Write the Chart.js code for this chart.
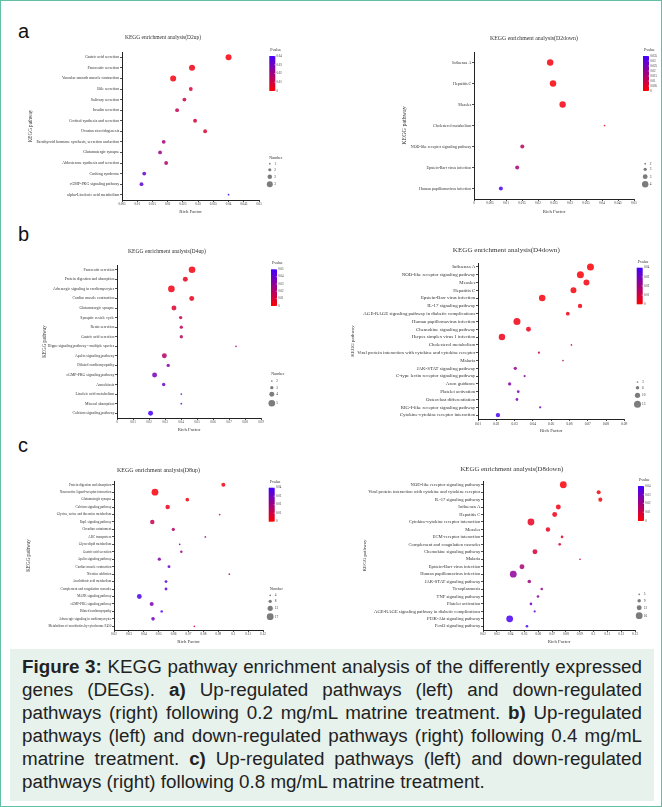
<!DOCTYPE html>
<html>
<head>
<meta charset="utf-8">
<script src="https://cdn.jsdelivr.net/npm/chart.js@4.4.0/dist/chart.umd.min.js"></script>
<style>
  body { margin: 0; background: #fff; }
  #fig { position: absolute; left: 0; top: 0; width: 660px; height: 805px; border: 1px solid #63bfa4; }
  canvas { position: absolute; }
  .letter { position: absolute; font: 20px "Liberation Sans", Arial, sans-serif; color: #111; }
  #cap { position: absolute; left: 9px; top: 648px; width: 644px; height: 152px; background: #e7f2ed; }
  #cap div { position: absolute; left: 12px; width: 620px; font: 18.8px "Liberation Sans", Arial, sans-serif; color: #222;
             text-align: justify; text-align-last: justify; white-space: nowrap; }
  #cap div.last { text-align-last: left; }
</style>
</head>
<body>
<div id="fig">
  <div class="letter" style="left:17px;top:19px">a</div>
  <div class="letter" style="left:17px;top:222px">b</div>
  <div class="letter" style="left:17px;top:433px">c</div>
  <canvas id="a1"></canvas><canvas id="a2"></canvas>
  <canvas id="b1"></canvas><canvas id="b2"></canvas>
  <canvas id="c1"></canvas><canvas id="c2"></canvas>
  <div id="cap">
    <div style="top:7px"><b>Figure 3:</b> KEGG pathway enrichment analysis of the differently expressed</div>
    <div style="top:30px">genes (DEGs). <b>a)</b> Up-regulated pathways (left) and down-regulated</div>
    <div style="top:53px">pathways (right) following 0.2 mg/mL matrine treatment. <b>b)</b> Up-regulated</div>
    <div style="top:76px">pathways (left) and down-regulated pathways (right) following 0.4 mg/mL</div>
    <div style="top:99px">matrine treatment. <b>c)</b> Up-regulated pathways (left) and down-regulated</div>
    <div class="last" style="top:122px">pathways (right) following 0.8 mg/mL matrine treatment.</div>
  </div>
</div>
<script>
// ---- D2 up ----
var d2upPaths = ['Gastric acid secretion', 'Pancreatic secretion', 'Vascular smooth muscle contraction', 'Bile secretion',
  'Salivary secretion', 'Insulin secretion', 'Cortisol synthesis and secretion', 'Ovarian steroidogenesis',
  'Parathyroid hormone synthesis, secretion and action', 'Glutamatergic synapse', 'Aldosterone synthesis and secretion',
  'Cushing syndrome', 'cGMP-PKG signaling pathway', 'alpha-Linolenic acid metabolism'];
var d2upRich = [0.040, 0.028, 0.0218, 0.0276, 0.0255, 0.0231, 0.029, 0.0323, 0.0187, 0.0175, 0.0195, 0.0123, 0.0114, 0.040];
var d2upCount = [3, 3, 3, 2, 2, 2, 2, 2, 2, 2, 2, 2, 2, 1];
var d2upP = [0.002, 0.003, 0.002, 0.008, 0.011, 0.013, 0.009, 0.007, 0.019, 0.021, 0.017, 0.032, 0.034, 0.04];
var d2upX = [0.005, 0.01, 0.015, 0.02, 0.025, 0.03, 0.035, 0.04, 0.045, 0.05];
var d2upPTicks = [0.04, 0.03, 0.02, 0.01, 0];
var d2upSize = [1, 1.67, 2.33, 3];
var d2upSizeLbl = ['1', '2', '2', '3'];

// ---- D2 down ----
var d2dnPaths = ['Influenza A', 'Hepatitis C', 'Measles', 'Cholesterol metabolism', 'NOD-like receptor signaling pathway',
  'Epstein-Barr virus infection', 'Human papillomavirus infection'];
var d2dnRich = [0.0238, 0.0247, 0.0277, 0.0408, 0.0151, 0.0135, 0.0084];
var d2dnCount = [4, 4, 4, 2, 3, 3, 3];
var d2dnP = [0.002, 0.001, 0.002, 0.004, 0.012, 0.016, 0.033];
var d2dnX = [0, 0.005, 0.01, 0.015, 0.02, 0.025, 0.03, 0.035, 0.04, 0.045, 0.05];
var d2dnPTicks = [0.035, 0.03, 0.025, 0.02, 0.015, 0.01, 0.005, 0];
var d2dnSize = [2, 2.67, 3.33, 4];
var d2dnSizeLbl = ['2', '3', '3', '4'];

// ---- D4 up ----
var d4upPaths = ['Pancreatic secretion', 'Protein digestion and absorption', 'Adrenergic signaling in cardiomyocytes',
  'Cardiac muscle contraction', 'Glutamatergic synapse', 'Synaptic vesicle cycle', 'Renin secretion', 'Gastric acid secretion',
  'Hippo signaling pathway - multiple species', 'Apelin signaling pathway', 'Dilated cardiomyopathy',
  'cGMP-PKG signaling pathway', 'Amoebiasis', 'Linoleic acid metabolism', 'Mineral absorption', 'Calcium signaling pathway'];
var d4upRich = [0.0469, 0.0427, 0.034, 0.0467, 0.0356, 0.0398, 0.0402, 0.0402, 0.0744, 0.0296, 0.032, 0.0235, 0.0292, 0.0402, 0.0402, 0.021];
var d4upCount = [5, 4, 5, 4, 4, 3, 3, 3, 2, 4, 3, 4, 3, 2, 2, 4];
var d4upP = [0.003, 0.006, 0.004, 0.005, 0.009, 0.016, 0.017, 0.018, 0.022, 0.02, 0.033, 0.036, 0.04, 0.044, 0.046, 0.048];
var d4upX = [0, 0.01, 0.02, 0.03, 0.04, 0.05, 0.06, 0.07, 0.08, 0.09];
var d4upPTicks = [0.05, 0.04, 0.03, 0.02, 0.01, 0];
var d4upSize = [2, 3, 4, 5];
var d4upSizeLbl = ['2', '3', '4', '5'];

// ---- D4 down ----
var d4dnPaths = ['Influenza A', 'NOD-like receptor signaling pathway', 'Measles', 'Hepatitis C', 'Epstein-Barr virus infection',
  'IL-17 signaling pathway', 'AGE-RAGE signaling pathway in diabetic complications', 'Human papillomavirus infection',
  'Chemokine signaling pathway', 'Herpes simplex virus 1 infection', 'Cholesterol metabolism',
  'Viral protein interaction with cytokine and cytokine receptor', 'Malaria', 'JAK-STAT signaling pathway',
  'C-type lectin receptor signaling pathway', 'Axon guidance', 'Platelet activation', 'Osteoclast differentiation',
  'RIG-I-like receptor signaling pathway', 'Cytokine-cytokine receptor interaction'];
var d4dnRich = [0.0715, 0.066, 0.0693, 0.0622, 0.0451, 0.0658, 0.0591, 0.0313, 0.0376, 0.0231, 0.0611, 0.0433, 0.0565,
  0.0304, 0.0355, 0.0273, 0.032, 0.0313, 0.044, 0.0209];
var d4dnCount = [13, 13, 11, 11, 12, 8, 7, 13, 9, 12, 3, 4, 3, 6, 4, 6, 5, 5, 4, 8];
var d4dnP = [0.001, 0.001, 0.002, 0.002, 0.002, 0.003, 0.004, 0.003, 0.004, 0.004, 0.009, 0.012, 0.013, 0.022, 0.025,
  0.026, 0.028, 0.029, 0.028, 0.038];
var d4dnX = [0.01, 0.02, 0.03, 0.04, 0.05, 0.06, 0.07, 0.08, 0.09];
var d4dnPTicks = [0.04, 0.03, 0.02, 0.01, 0];
var d4dnSize = [3, 6.33, 9.67, 13];
var d4dnSizeLbl = ['3', '6', '10', '13'];

// ---- D8 up ----
var d8upPaths = ['Protein digestion and absorption', 'Neuroactive ligand-receptor interaction', 'Glutamatergic synapse',
  'Calcium signaling pathway', 'Glycine, serine and threonine metabolism', 'Rap1 signaling pathway', 'Circadian entrainment',
  'ABC transporters', 'Glycerolipid metabolism', 'Gastric acid secretion', 'Apelin signaling pathway',
  'Cardiac muscle contraction', 'Nicotine addiction', 'Arachidonic acid metabolism', 'Complement and coagulation cascades',
  'MAPK signaling pathway', 'cGMP-PKG signaling pathway', 'Dilated cardiomyopathy', 'Adrenergic signaling in cardiomyocytes',
  'Metabolism of xenobiotics by cytochrome P450'];
var d8upRich = [0.0934, 0.0475, 0.0692, 0.056, 0.0909, 0.0457, 0.0598, 0.0813, 0.0641, 0.0652, 0.0504, 0.0569, 0.0974,
  0.0549, 0.0549, 0.037, 0.0453, 0.052, 0.0462, 0.0739];
var d8upCount = [10, 17, 9, 11, 4, 11, 8, 4, 4, 6, 8, 7, 4, 7, 7, 12, 10, 6, 9, 4];
var d8upP = [0.002, 0.002, 0.003, 0.004, 0.012, 0.012, 0.016, 0.02, 0.036, 0.02, 0.026, 0.032, 0.015, 0.034, 0.034,
  0.038, 0.028, 0.038, 0.03, 0.01];
var d8upX = [0.02, 0.03, 0.04, 0.05, 0.06, 0.07, 0.08, 0.09, 0.1, 0.11, 0.12];
var d8upPTicks = [0.04, 0.03, 0.02, 0.01, 0];
var d8upSize = [4, 8, 13, 17];
var d8upSizeLbl = ['4', '8', '13', '17'];

// ---- D8 down ----
var d8dnPaths = ['NOD-like receptor signaling pathway', 'Viral protein interaction with cytokine and cytokine receptor',
  'IL-17 signaling pathway', 'Influenza A', 'Hepatitis C', 'Cytokine-cytokine receptor interaction', 'Measles',
  'ECM-receptor interaction', 'Complement and coagulation cascades', 'Chemokine signaling pathway', 'Malaria',
  'Epstein-Barr virus infection', 'Human papillomavirus infection', 'JAK-STAT signaling pathway', 'Toxoplasmosis',
  'TNF signaling pathway', 'Platelet activation', 'AGE-RAGE signaling pathway in diabetic complications',
  'PI3K-Akt signaling pathway', 'FoxO signaling pathway'];
var d8dnRich = [0.0781, 0.1037, 0.1049, 0.0745, 0.0719, 0.0547, 0.067, 0.0772, 0.0755, 0.0576, 0.0902, 0.0482, 0.0419,
  0.0535, 0.0625, 0.0598, 0.0547, 0.0574, 0.0393, 0.0518];
var d8dnCount = [16, 10, 10, 12, 12, 16, 11, 7, 7, 12, 5, 12, 16, 9, 7, 7, 7, 6, 16, 7];
var d8dnP = [0.001, 0.002, 0.002, 0.003, 0.004, 0.005, 0.005, 0.006, 0.007, 0.009, 0.01, 0.018, 0.024, 0.02, 0.022,
  0.025, 0.03, 0.032, 0.038, 0.036];
var d8dnX = [0.02, 0.03, 0.04, 0.05, 0.06, 0.07, 0.08, 0.09, 0.1, 0.11, 0.12, 0.13];
var d8dnPTicks = [0.04, 0.03, 0.02, 0.01, 0];
var d8dnSize = [5, 9, 12, 16];
var d8dnSizeLbl = ['5', '9', '12', '16'];

var SERIF = '"Liberation Serif", "Times New Roman", serif';
var TXT = '#333';
var mctx = document.createElement('canvas').getContext('2d');

function fitFont(text, width) {
  mctx.font = '10px ' + SERIF;
  return 10 * width / mctx.measureText(text).width;
}
function pColor(p, pmax, a) {
  var t = Math.max(0, Math.min(1, p / pmax));
  var r = Math.round(255 - 190 * t), b = Math.round(255 * t);
  return 'rgba(' + r + ',0,' + b + ',' + a + ')';
}

// layout of each panel in page pixels
var panels = [
  { id: 'a1', paths: d2upPaths, rich: d2upRich, count: d2upCount, p: d2upP, xt: d2upX, pt: d2upPTicks, sz: d2upSize, szl: d2upSizeLbl,
    title: 'KEGG enrichment analysis(D2up)', cv: [0, 20, 331, 205], area: [121, 51, 258, 199], tpos: [162, 37, 76],
    labW: 83, yTitleX: 30, yTitleFs: 5.1, xFs: 3.2, richY: 211, rmax: 3.0,
    lg: { px: 268.3, py0: 55, py1: 90, ny: 157, nx: 267.3, rows: [162.7, 168.7, 175.7, 183.3] } },
  { id: 'a2', paths: d2dnPaths, rich: d2dnRich, count: d2dnCount, p: d2dnP, xt: d2dnX, pt: d2dnPTicks, sz: d2dnSize, szl: d2dnSizeLbl,
    title: 'KEGG enrichment analysis(D2down)', cv: [331, 20, 331, 205], area: [473, 51, 633, 198], tpos: [533, 37.3, 88],
    labW: 60.7, yTitleX: 403, yTitleFs: 6, xFs: 3.3, richY: 211, rmax: 3.2,
    lg: { px: 642, py0: 55, py1: 90, ny: 157, nx: 642.7, rows: [162.7, 168.3, 175.7, 183.3] } },
  { id: 'b1', paths: d4upPaths, rich: d4upRich, count: d4upCount, p: d4upP, xt: d4upX, pt: d4upPTicks, sz: d4upSize, szl: d4upSizeLbl,
    title: 'KEGG enrichment analysis(D4up)', cv: [0, 228, 331, 212], area: [116, 264, 260, 417], tpos: [166, 251, 78],
    labW: 66.7, yTitleX: 43.3, yTitleFs: 5.1, xFs: 3.1, richY: 429, rmax: 3.3,
    lg: { px: 270, py0: 268.3, py1: 305, ny: 373.3, nx: 269.3, rows: [380, 386.7, 393.3, 402.3] } },
  { id: 'b2', paths: d4dnPaths, rich: d4dnRich, count: d4dnCount, p: d4dnP, xt: d4dnX, pt: d4dnPTicks, sz: d4dnSize, szl: d4dnSizeLbl,
    title: 'KEGG enrichment analysis(D4down)', cv: [331, 228, 331, 212], area: [477, 262, 623.3, 418], tpos: [505.3, 249, 107],
    labW: 118.3, yTitleX: 351.7, yTitleFs: 4.9, xFs: 3.5, richY: 430, rmax: 3.5,
    lg: { px: 635.7, py0: 266.7, py1: 303.3, ny: 374.3, nx: 635, rows: [381, 386.7, 394.3, 403.3] } },
  { id: 'c1', paths: d8upPaths, rich: d8upRich, count: d8upCount, p: d8upP, xt: d8upX, pt: d8upPTicks, sz: d8upSize, szl: d8upSizeLbl,
    title: 'KEGG enrichment analysis(D8up)', cv: [0, 455, 331, 195], area: [113, 480, 262, 629], tpos: [157.5, 469.3, 83],
    labW: 63.3, yTitleX: 27.7, yTitleFs: 5.1, xFs: 3.3, richY: 641, rmax: 3.4,
    lg: { px: 267.7, py0: 486.7, py1: 520.7, ny: 588.3, nx: 267.7, rows: [594.3, 600.3, 607.3, 615.7] } },
  { id: 'c2', paths: d8dnPaths, rich: d8dnRich, count: d8dnCount, p: d8dnP, xt: d8dnX, pt: d8dnPTicks, sz: d8dnSize, szl: d8dnSizeLbl,
    title: 'KEGG enrichment analysis(D8down)', cv: [331, 455, 331, 195], area: [482, 480, 634, 629], tpos: [510.8, 468.3, 103],
    labW: 112.3, yTitleX: 363.3, yTitleFs: 5.0, xFs: 3.3, richY: 641, rmax: 3.4,
    lg: { px: 637, py0: 485, py1: 520, ny: 586.7, nx: 636.7, rows: [593.3, 599.7, 606.7, 614.7] } }
];

panels.forEach(function (P) {
  var cx = P.cv[0], cy = P.cv[1], cw = P.cv[2], ch = P.cv[3];
  var l = P.area[0], t = P.area[1], r = P.area[2], b = P.area[3];
  var longest = P.paths.reduce(function (a, s) { mctx.font = '10px ' + SERIF; return mctx.measureText(s).width > mctx.measureText(a).width ? s : a; });
  var labFs = fitFont(longest, P.labW);
  var richFs = 4.8;
  var padL = P.yTitleX - cx - 0.6 * P.yTitleFs;
  var yw = l - cx - padL;
  var xh = P.richY - b + 0.6 * richFs;
  var padB = cy + ch - b - xh;
  var nmin = P.sz[0], nmax = P.sz[P.sz.length - 1], pmax = P.pt[0];
  function rad(n) { return 0.85 + (n - nmin) / (nmax - nmin) * (P.rmax - 0.85); }

  var cvs = document.getElementById(P.id);
  cvs.width = cw; cvs.height = ch;
  cvs.style.left = cx + 'px'; cvs.style.top = cy + 'px';

  var pts = P.paths.map(function (name, i) { return { x: P.rich[i], y: name, r: rad(P.count[i]) }; });
  var cols = P.p.map(function (v) { return pColor(v, pmax, 0.85); });

  var deco = {
    id: 'deco',
    afterDraw: function (chart) {
      var c = chart.ctx, L = P.lg;
      c.save();
      c.fillStyle = TXT;
      c.textBaseline = 'middle';
      // chart title
      c.textAlign = 'center';
      c.font = fitFont(P.title, P.tpos[2]) + 'px ' + SERIF;
      c.fillText(P.title, P.tpos[0] - cx, P.tpos[1] - cy);
      // Pvalue colour bar
      var bx = L.px - cx, by0 = L.py0 - cy, by1 = L.py1 - cy, bw = 6;
      c.textAlign = 'left';
      c.font = '4px ' + SERIF;
      c.fillText('Pvalue', bx + 1, by0 - 6);
      var g = c.createLinearGradient(0, by0, 0, by1);
      for (var k = 0; k <= 10; k++) g.addColorStop(k / 10, pColor(pmax * (1 - k / 10), pmax, 1));
      c.fillStyle = g;
      c.fillRect(bx, by0, bw, by1 - by0);
      c.fillStyle = TXT;
      c.strokeStyle = '#fff';
      c.lineWidth = 0.4;
      c.font = '3px ' + SERIF;
      P.pt.forEach(function (v) {
        var yy = by1 - (v / pmax) * (by1 - by0);
        c.beginPath(); c.moveTo(bx + bw - 1.2, yy); c.lineTo(bx + bw, yy); c.stroke();
        c.fillText(String(v), bx + bw + 1.2, yy);
      });
      // Number size legend
      c.font = '4px ' + SERIF;
      c.fillText('Number', L.nx + 1, L.ny - cy);
      P.sz.forEach(function (n, k) {
        var yy = L.rows[k] - cy;
        c.fillStyle = 'rgba(110,110,110,0.9)';
        c.beginPath(); c.arc(L.nx - cx + 1.5, yy, rad(n), 0, Math.PI * 2); c.fill();
        c.fillStyle = TXT;
        c.font = '3.4px ' + SERIF;
        c.fillText(P.szl[k], L.nx - cx + 6, yy);
      });
      c.restore();
    }
  };

  new Chart(cvs, {
    type: 'bubble',
    data: { datasets: [{ data: pts, backgroundColor: cols, borderWidth: 0, hoverRadius: 0 }] },
    plugins: [deco],
    options: {
      responsive: false,
      animation: false,
      events: [],
      layout: { padding: { left: padL, top: t - cy, right: cx + cw - r, bottom: padB } },
      plugins: { legend: { display: false }, tooltip: { enabled: false }, title: { display: false } },
      scales: {
        x: {
          type: 'linear', min: P.xt[0], max: P.xt[P.xt.length - 1],
          afterBuildTicks: function (s) { s.ticks = P.xt.map(function (v) { return { value: v }; }); },
          afterFit: function (s) { s.height = xh; },
          ticks: { autoSkip: false, maxRotation: 0, padding: 0.6, color: TXT, font: { family: SERIF, size: P.xFs },
                   callback: function (v) { return String(v); } },
          grid: { drawOnChartArea: false, drawTicks: true, tickLength: 2, color: '#222', lineWidth: 0.8 },
          border: { display: true, color: '#222', width: 1 },
          title: { display: true, text: 'Rich Factor', color: TXT, padding: 0, font: { family: SERIF, size: richFs } }
        },
        y: {
          type: 'category', labels: P.paths, offset: true,
          afterFit: function (s) { s.width = yw; },
          ticks: { autoSkip: false, padding: 0.7, color: TXT, font: { family: SERIF, size: labFs } },
          grid: { drawOnChartArea: false, drawTicks: true, tickLength: 2, color: '#222', lineWidth: 0.8 },
          border: { display: true, color: '#222', width: 1 },
          title: { display: true, text: 'KEGG pathway', color: TXT, padding: 0, font: { family: SERIF, size: P.yTitleFs } }
        }
      }
    }
  });
});
</script>
</body>
</html>
